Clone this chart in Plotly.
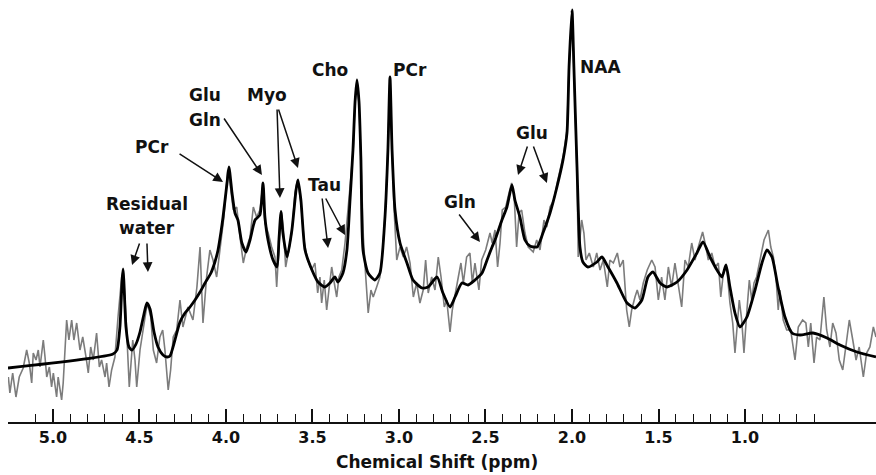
import plotly.graph_objects as go

# ---- Data (chemical shift in ppm, signal in arbitrary units) ----
fit_ppm = [5.260, 4.653, 4.630, 4.613, 4.601, 4.595, 4.590, 4.578, 4.561, 4.543, 4.520, 4.497, 4.474, 4.457,
           4.439, 4.416, 4.393, 4.364, 4.341, 4.324, 4.295, 4.266, 4.237, 4.208, 4.179, 4.150, 4.121, 4.087,
           4.064, 4.046, 4.029, 4.017, 3.994, 3.983, 3.965, 3.948, 3.931, 3.908, 3.884, 3.861, 3.832, 3.804,
           3.786, 3.775, 3.757, 3.728, 3.705, 3.694, 3.682, 3.671, 3.647, 3.619, 3.595, 3.584, 3.567, 3.543,
           3.503, 3.468, 3.428, 3.399, 3.370, 3.353, 3.324, 3.301, 3.283, 3.266, 3.254, 3.243, 3.231, 3.220,
           3.208, 3.179, 3.139, 3.110, 3.081, 3.064, 3.052, 3.040, 3.023, 2.994, 2.954, 2.919, 2.867, 2.832,
           2.780, 2.746, 2.705, 2.676, 2.636, 2.601, 2.561, 2.520, 2.491, 2.462, 2.445, 2.405, 2.376, 2.347,
           2.330, 2.301, 2.272, 2.243, 2.202, 2.168, 2.127, 2.087, 2.052, 2.029, 2.017, 2.000, 1.989, 1.971,
           1.954, 1.937, 1.908, 1.856, 1.827, 1.792, 1.740, 1.682, 1.636, 1.596, 1.561, 1.532, 1.491, 1.451,
           1.393, 1.335, 1.278, 1.243, 1.202, 1.162, 1.133, 1.110, 1.087, 1.058, 1.029, 0.989, 0.942, 0.902,
           0.873, 0.844, 0.809, 0.769, 0.728, 0.682, 0.607, 0.526, 0.451, 0.353, 0.243]
fit_signal = [54, 68, 72, 95, 140, 153, 140, 95, 75, 72, 78, 90, 108, 119,
              113, 90, 75, 67, 65, 66, 82, 100, 109, 115, 122, 130, 139, 149,
              160, 172, 190, 205, 239, 255, 229, 209, 202, 179, 170, 182, 202, 207,
              239, 205, 182, 162, 155, 182, 210, 189, 165, 192, 232, 242, 222, 172,
              152, 140, 135, 139, 145, 140, 149, 172, 222, 272, 320, 342, 320, 262,
              172, 149, 142, 149, 205, 272, 345, 272, 212, 179, 159, 142, 134, 135,
              145, 129, 115, 125, 139, 137, 142, 149, 162, 175, 182, 202, 215, 237,
              222, 205, 182, 176, 175, 189, 209, 235, 262, 289, 355, 412, 355, 255,
              175, 160, 155, 160, 165, 155, 139, 119, 114, 122, 145, 150, 139, 135,
              140, 152, 169, 180, 165, 152, 145, 157, 135, 109, 95, 105, 132, 159,
              172, 165, 135, 105, 89, 87, 89, 84, 77, 70, 65]

raw_ppm = [5.258, 5.249, 5.233, 5.214, 5.195, 5.172, 5.152, 5.137, 5.123, 5.114, 5.098, 5.085, 5.075, 5.056,
           5.046, 5.036, 5.021, 5.008, 4.998, 4.979, 4.970, 4.950, 4.941, 4.931, 4.921, 4.908, 4.892, 4.879,
           4.863, 4.844, 4.828, 4.809, 4.796, 4.782, 4.767, 4.748, 4.732, 4.719, 4.699, 4.690, 4.676, 4.661,
           4.642, 4.624, 4.603, 4.594, 4.578, 4.559, 4.539, 4.526, 4.516, 4.497, 4.474, 4.455, 4.435, 4.420,
           4.401, 4.382, 4.366, 4.353, 4.334, 4.320, 4.305, 4.285, 4.266, 4.249, 4.220, 4.191, 4.168, 4.150,
           4.133, 4.112, 4.093, 4.075, 4.054, 4.035, 4.012, 3.990, 3.977, 3.958, 3.938, 3.919, 3.900, 3.880,
           3.861, 3.842, 3.823, 3.804, 3.788, 3.775, 3.756, 3.736, 3.717, 3.707, 3.694, 3.682, 3.669, 3.655,
           3.640, 3.620, 3.601, 3.586, 3.567, 3.547, 3.528, 3.505, 3.486, 3.470, 3.457, 3.447, 3.432, 3.418,
           3.405, 3.389, 3.374, 3.360, 3.347, 3.331, 3.312, 3.293, 3.278, 3.264, 3.254, 3.243, 3.231, 3.220,
           3.206, 3.194, 3.178, 3.162, 3.149, 3.129, 3.110, 3.093, 3.081, 3.064, 3.052, 3.040, 3.029, 3.013,
           2.994, 2.975, 2.956, 2.936, 2.917, 2.898, 2.879, 2.860, 2.846, 2.831, 2.811, 2.792, 2.773, 2.757,
           2.738, 2.724, 2.705, 2.692, 2.676, 2.657, 2.642, 2.628, 2.609, 2.590, 2.576, 2.561, 2.538, 2.522,
           2.499, 2.474, 2.461, 2.445, 2.430, 2.416, 2.403, 2.383, 2.364, 2.349, 2.334, 2.320, 2.306, 2.291,
           2.272, 2.253, 2.224, 2.204, 2.185, 2.162, 2.146, 2.127, 2.104, 2.087, 2.052, 2.029, 2.017, 2.000,
           1.989, 1.971, 1.964, 1.944, 1.931, 1.919, 1.900, 1.877, 1.857, 1.838, 1.819, 1.796, 1.781, 1.761,
           1.738, 1.723, 1.704, 1.684, 1.669, 1.655, 1.636, 1.623, 1.607, 1.588, 1.565, 1.539, 1.520, 1.501,
           1.482, 1.463, 1.443, 1.424, 1.405, 1.386, 1.366, 1.347, 1.328, 1.308, 1.289, 1.270, 1.245, 1.231,
           1.212, 1.192, 1.173, 1.154, 1.140, 1.125, 1.106, 1.087, 1.071, 1.058, 1.045, 1.033, 1.019, 1.006,
           0.990, 0.975, 0.961, 0.948, 0.933, 0.913, 0.890, 0.865, 0.851, 0.836, 0.821, 0.808, 0.798, 0.779,
           0.759, 0.736, 0.711, 0.692, 0.667, 0.648, 0.634, 0.620, 0.601, 0.586, 0.567, 0.544, 0.528, 0.509,
           0.493, 0.474, 0.455, 0.435, 0.416, 0.397, 0.377, 0.358, 0.340, 0.316, 0.297, 0.278, 0.258, 0.243]
raw_signal = [45, 29, 49, 25, 45, 54, 72, 59, 39, 69, 62, 72, 55, 82,
              65, 45, 55, 35, 49, 25, 45, 22, 39, 79, 102, 82, 102, 82,
              99, 72, 85, 65, 49, 75, 62, 89, 55, 62, 45, 59, 35, 52,
              65, 105, 145, 152, 105, 35, 82, 62, 35, 72, 99, 119, 105, 72,
              59, 85, 92, 72, 32, 52, 85, 92, 122, 95, 115, 102, 135, 175,
              99, 145, 172, 162, 145, 172, 205, 252, 239, 212, 215, 185, 159, 175,
              185, 215, 205, 212, 235, 199, 189, 175, 165, 135, 172, 212, 195, 155,
              169, 189, 229, 242, 219, 179, 162, 152, 159, 129, 145, 119, 142, 112,
              132, 155, 139, 125, 145, 152, 179, 212, 245, 275, 320, 342, 318, 262,
              185, 150, 109, 132, 125, 135, 145, 175, 205, 272, 345, 272, 215, 162,
              175, 165, 175, 159, 125, 139, 119, 132, 162, 129, 145, 132, 165, 145,
              115, 122, 90, 112, 129, 145, 159, 139, 165, 169, 139, 159, 132, 162,
              172, 189, 179, 192, 155, 179, 212, 215, 229, 239, 225, 175, 209, 212,
              189, 175, 170, 182, 172, 202, 195, 215, 222, 238, 265, 292, 355, 412,
              355, 250, 165, 202, 189, 162, 169, 155, 169, 152, 162, 135, 162, 159,
              169, 155, 162, 112, 95, 112, 125, 132, 122, 139, 152, 162, 155, 122,
              145, 122, 155, 135, 159, 135, 115, 162, 155, 179, 162, 175, 190, 179,
              162, 169, 155, 159, 125, 149, 155, 119, 99, 69, 102, 122, 102, 69,
              109, 142, 122, 139, 145, 162, 182, 192, 175, 165, 145, 112, 132, 102,
              92, 92, 62, 95, 102, 99, 75, 99, 59, 85, 82, 125, 92, 75,
              99, 89, 62, 52, 75, 102, 82, 62, 75, 45, 69, 75, 95, 85]

major_ticks = [5.0, 4.5, 4.0, 3.5, 3.0, 2.5, 2.0, 1.5, 1.0]
major_labels = ["5.0", "4.5", "4.0", "3.5", "3.0", "2.5", "2.0", "1.5", "1.0"]
minor_ticks = [5.1, 4.9, 4.8, 4.7, 4.6, 4.4, 4.3, 4.2, 4.1, 3.9, 3.8, 3.7, 3.6, 3.4, 3.3, 3.2, 3.1,
               2.9, 2.8, 2.7, 2.6, 2.4, 2.3, 2.2, 2.1, 1.9, 1.8, 1.7, 1.6, 1.4, 1.3, 1.2, 1.1,
               0.9, 0.8, 0.7, 0.6]

FONT = "DejaVu Sans"

fig = go.Figure()
fig.add_trace(go.Scatter(x=raw_ppm, y=raw_signal, mode="lines",
                         line=dict(color="#7c7c7c", width=1.6), hoverinfo="skip"))
fig.add_trace(go.Scatter(x=fit_ppm, y=fit_signal, mode="lines",
                         line=dict(color="#000000", width=2.8, shape="spline", smoothing=0.6),
                         hoverinfo="skip"))

# text labels
labels = [
    ("Residual", 4.457, 218), ("water", 4.457, 194), ("PCr", 4.428, 275),
    ("Glu", 4.121, 327), ("Gln", 4.121, 302), ("Myo", 3.763, 327),
    ("Cho", 3.399, 352), ("PCr", 2.936, 352), ("NAA", 1.838, 355),
    ("Tau", 3.428, 237), ("Gln", 2.647, 220), ("Glu", 2.231, 289),
]
for txt, x, y in labels:
    fig.add_annotation(x=x, y=y, text=txt, showarrow=False, xanchor="center", yanchor="middle",
                       font=dict(family=FONT, size=17, color="#111", weight="bold"))

# arrows: (tail_x, tail_y, head_x, head_y)
arrows = [
    (4.277, 269, 4.017, 240), (4.017, 305, 3.792, 247),
    (3.705, 314, 3.688, 224), (3.699, 314, 3.584, 254),
    (3.445, 225, 3.410, 174), (3.428, 225, 3.312, 187),
    (2.659, 209, 2.532, 180), (2.255, 277, 2.312, 247),
    (2.226, 277, 2.145, 239), (4.497, 180, 4.543, 157),
    (4.457, 180, 4.451, 150),
]
for tx, ty, hx, hy in arrows:
    fig.add_annotation(x=hx, y=hy, ax=tx, ay=ty, axref="x", ayref="y", xref="x", yref="y",
                       text="", showarrow=True, arrowhead=2, arrowsize=1.3, arrowwidth=1.5,
                       arrowcolor="#111")

fig.add_annotation(x=2.78, y=-0.095, xref="x", yref="paper", text="Chemical Shift (ppm)",
                   showarrow=False, xanchor="center", yanchor="middle",
                   font=dict(family=FONT, size=17, color="#111", weight="bold"))

fig.update_layout(
    width=876, height=475,
    margin=dict(l=8, r=0, t=0, b=53),
    paper_bgcolor="white", plot_bgcolor="white",
    showlegend=False,
    xaxis=dict(range=[5.260, 0.2428], showgrid=False, zeroline=False,
               showline=True, linecolor="#111", linewidth=1.5,
               tickmode="array", tickvals=major_ticks, ticktext=major_labels,
               ticks="inside", ticklen=13, tickwidth=1.5, tickcolor="#111",
               tickfont=dict(family=FONT, size=16, color="#111", weight="bold"),
               minor=dict(tickmode="array", tickvals=minor_ticks, ticks="inside",
                          ticklen=8, tickwidth=1.2, tickcolor="#111", showgrid=False)),
    yaxis=dict(range=[0, 422], visible=False, fixedrange=True),
)

fig.write_html("out.html")
